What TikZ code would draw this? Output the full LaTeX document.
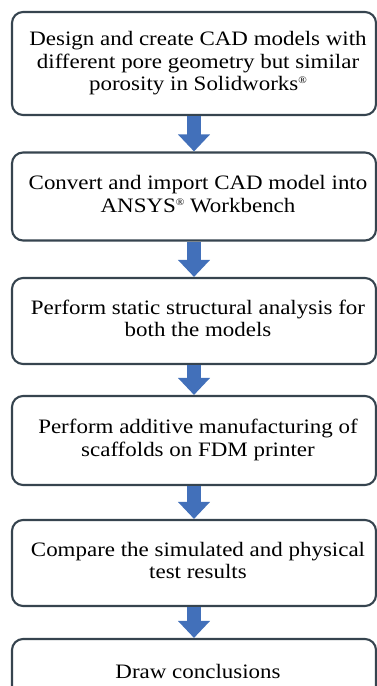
\documentclass[tikz,border=0pt]{standalone}
\usepackage{fontspec}
\setmainfont{Liberation Serif}
\newfontfamily\boxfont[FakeStretch=1.12]{Liberation Serif}
\usetikzlibrary{arrows.meta}
\definecolor{boxline}{HTML}{36444F}
\definecolor{arrowblue}{HTML}{4270BA}
\newcommand{\steptext}[1]{\hspace*{8pt}\begin{tabular}{@{}c@{}}#1\end{tabular}}
\newcommand{\regmark}{\raisebox{7pt}{\fontsize{10}{10}\selectfont\textregistered}}
\tikzset{
  stepbox/.style={draw=boxline, line width=2.1pt, rounded corners=11pt, fill=white,
    minimum width=364pt, inner sep=0pt,
    font=\boxfont\fontsize{20.5}{22.5}\selectfont},
  flow/.style={draw=arrowblue, line width=13.5pt,
    -{Triangle[width=31pt,length=17pt,fill=arrowblue]}}
}
\begin{document}
\begin{tikzpicture}[x=1pt,y=-1pt]
\useasboundingbox (0,0) rectangle (377,686);
\begin{scope}
\clip (0,0) rectangle (377,686);
\node[stepbox, minimum height=103pt] (b1) at (194,63.5)
  {\steptext{Design and create CAD models with\\different pore geometry but similar\\porosity in Solidworks\regmark}};
\node[stepbox, minimum height=88pt] (b2) at (194,196.5)
  {\steptext{Convert and import CAD model into\\ANSYS\regmark{} Workbench}};
\node[stepbox, minimum height=86pt] (b3) at (194,321)
  {\steptext{Perform static structural analysis for\\both the models}};
\node[stepbox, minimum height=89pt] (b4) at (194,440.5)
  {\steptext{Perform additive manufacturing of\\scaffolds on FDM printer}};
\node[stepbox, minimum height=86pt] (b5) at (194,563)
  {\steptext{Compare the simulated and physical\\test results}};
\node[stepbox, minimum height=70pt] (b6) at (194,674)
  {\steptext{Draw conclusions}};
\draw[flow] (b1.south) -- (b2.north);
\draw[flow] (b2.south) -- (b3.north);
\draw[flow] (b3.south) -- (b4.north);
\draw[flow] (b4.south) -- (b5.north);
\draw[flow] (b5.south) -- (b6.north);
\end{scope}
\end{tikzpicture}
\end{document}
